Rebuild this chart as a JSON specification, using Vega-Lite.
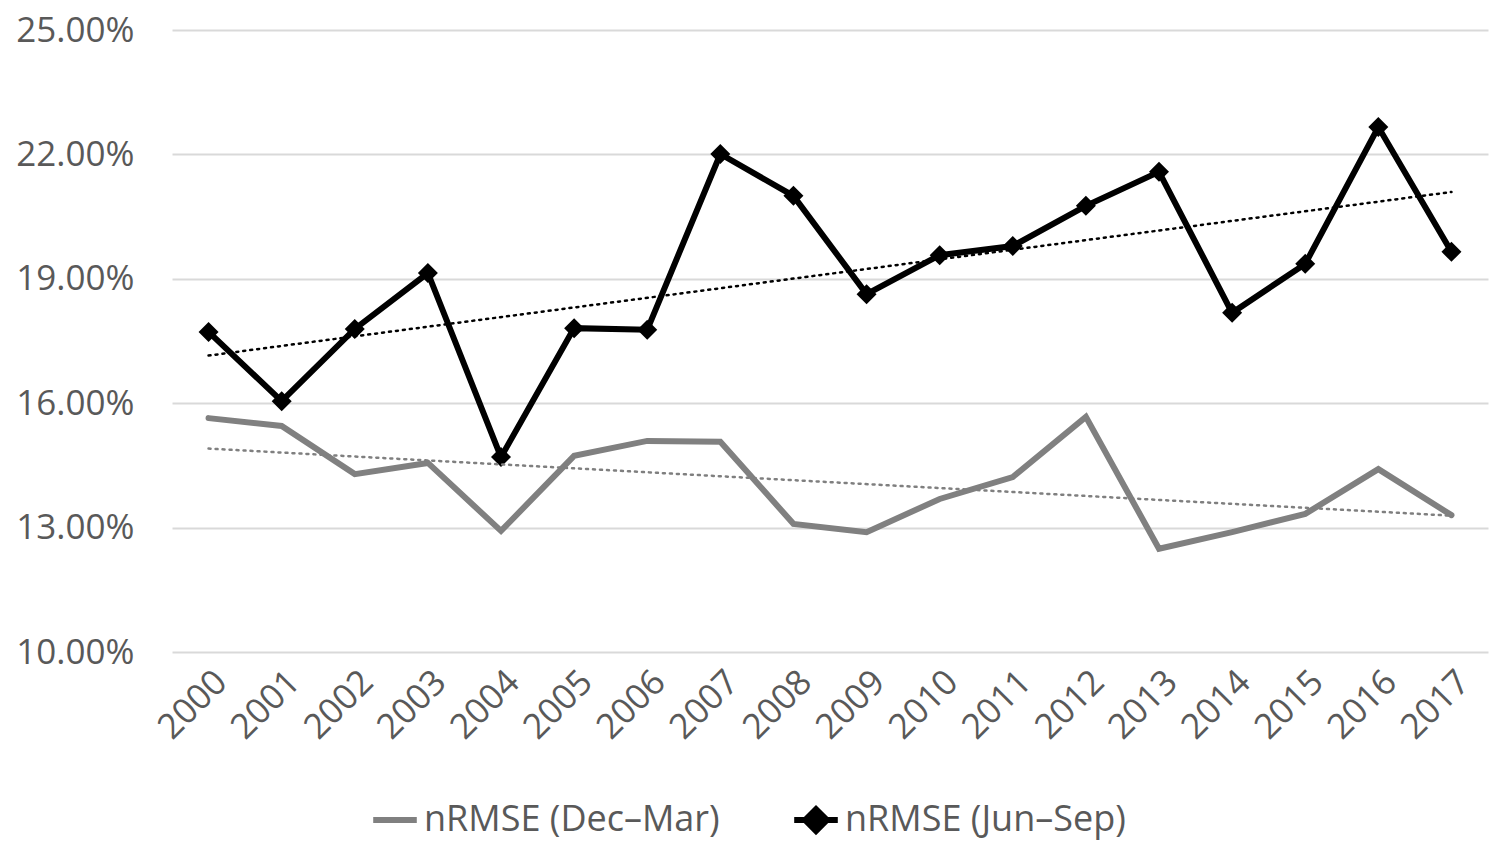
{
  "$schema": "https://vega.github.io/schema/vega-lite/v6.json",
  "width": 1316,
  "height": 622,
  "autosize": "none",
  "padding": {"left": 172, "top": 30, "right": 14, "bottom": 200},
  "background": "white",
  "config": {
    "font": "Open Sans",
    "view": {"stroke": null},
    "axis": {"labelColor": "#595959", "labelFont": "Open Sans"},
    "legend": {"labelColor": "#595959", "labelFont": "Open Sans"}
  },
  "data": {
    "values": [
      {"year": 2000, "series": "nRMSE (Dec\u2013Mar)", "value": 0.1564},
      {"year": 2001, "series": "nRMSE (Dec\u2013Mar)", "value": 0.1545},
      {"year": 2002, "series": "nRMSE (Dec\u2013Mar)", "value": 0.1429},
      {"year": 2003, "series": "nRMSE (Dec\u2013Mar)", "value": 0.1456},
      {"year": 2004, "series": "nRMSE (Dec\u2013Mar)", "value": 0.1292},
      {"year": 2005, "series": "nRMSE (Dec\u2013Mar)", "value": 0.1473},
      {"year": 2006, "series": "nRMSE (Dec\u2013Mar)", "value": 0.1509},
      {"year": 2007, "series": "nRMSE (Dec\u2013Mar)", "value": 0.1507},
      {"year": 2008, "series": "nRMSE (Dec\u2013Mar)", "value": 0.1309},
      {"year": 2009, "series": "nRMSE (Dec\u2013Mar)", "value": 0.1289},
      {"year": 2010, "series": "nRMSE (Dec\u2013Mar)", "value": 0.1369},
      {"year": 2011, "series": "nRMSE (Dec\u2013Mar)", "value": 0.1422},
      {"year": 2012, "series": "nRMSE (Dec\u2013Mar)", "value": 0.1567},
      {"year": 2013, "series": "nRMSE (Dec\u2013Mar)", "value": 0.1249},
      {"year": 2014, "series": "nRMSE (Dec\u2013Mar)", "value": 0.1289},
      {"year": 2015, "series": "nRMSE (Dec\u2013Mar)", "value": 0.1333},
      {"year": 2016, "series": "nRMSE (Dec\u2013Mar)", "value": 0.1441},
      {"year": 2017, "series": "nRMSE (Dec\u2013Mar)", "value": 0.1330},
      {"year": 2000, "series": "nRMSE (Jun\u2013Sep)", "value": 0.1772},
      {"year": 2001, "series": "nRMSE (Jun\u2013Sep)", "value": 0.1605},
      {"year": 2002, "series": "nRMSE (Jun\u2013Sep)", "value": 0.1779},
      {"year": 2003, "series": "nRMSE (Jun\u2013Sep)", "value": 0.1914},
      {"year": 2004, "series": "nRMSE (Jun\u2013Sep)", "value": 0.1470},
      {"year": 2005, "series": "nRMSE (Jun\u2013Sep)", "value": 0.1781},
      {"year": 2006, "series": "nRMSE (Jun\u2013Sep)", "value": 0.1777},
      {"year": 2007, "series": "nRMSE (Jun\u2013Sep)", "value": 0.2201},
      {"year": 2008, "series": "nRMSE (Jun\u2013Sep)", "value": 0.2100},
      {"year": 2009, "series": "nRMSE (Jun\u2013Sep)", "value": 0.1863},
      {"year": 2010, "series": "nRMSE (Jun\u2013Sep)", "value": 0.1957},
      {"year": 2011, "series": "nRMSE (Jun\u2013Sep)", "value": 0.1979},
      {"year": 2012, "series": "nRMSE (Jun\u2013Sep)", "value": 0.2076},
      {"year": 2013, "series": "nRMSE (Jun\u2013Sep)", "value": 0.2158},
      {"year": 2014, "series": "nRMSE (Jun\u2013Sep)", "value": 0.1818},
      {"year": 2015, "series": "nRMSE (Jun\u2013Sep)", "value": 0.1936},
      {"year": 2016, "series": "nRMSE (Jun\u2013Sep)", "value": 0.2266},
      {"year": 2017, "series": "nRMSE (Jun\u2013Sep)", "value": 0.1965}
    ]
  },
  "encoding": {
    "x": {
      "field": "year",
      "type": "ordinal",
      "scale": {"type": "point", "padding": 0.5},
      "axis": {
        "title": null,
        "labelAngle": -45,
        "labelFontSize": 35,
        "labelPadding": 12,
        "ticks": false,
        "domain": false,
        "grid": false
      }
    },
    "y": {
      "field": "value",
      "type": "quantitative",
      "scale": {"domain": [0.1, 0.25], "nice": false, "zero": false},
      "axis": {
        "title": null,
        "values": [0.1, 0.13, 0.16, 0.19, 0.22, 0.25],
        "format": ".2%",
        "labelFontSize": 35,
        "labelPadding": 38,
        "ticks": false,
        "domain": false,
        "gridColor": "#d9d9d9",
        "gridWidth": 2
      }
    }
  },
  "layer": [
    {
      "mark": {"type": "line", "strokeWidth": 6, "strokeJoin": "miter", "strokeCap": "round"},
      "encoding": {
        "color": {
          "field": "series",
          "type": "nominal",
          "scale": {"domain": ["nRMSE (Dec\u2013Mar)", "nRMSE (Jun\u2013Sep)"], "range": ["#808080", "#000000"]},
          "legend": {
            "title": null,
            "orient": "none",
            "direction": "horizontal",
            "legendX": 198,
            "legendY": 765,
            "labelFontSize": 36,
            "labelLimit": 1000,
            "labelBaseline": "middle",
            "gridAlign": "all",
            "symbolSize": 1900,
            "symbolStrokeWidth": 6,
            "columnPadding": 62,
            "labelOffset": 4
          }
        },
        "shape": {
          "field": "series",
          "type": "nominal",
          "scale": {"domain": ["nRMSE (Dec\u2013Mar)", "nRMSE (Jun\u2013Sep)"], "range": ["M-1,0L1,0M0,-0.5L0,-0.5M0,0.5L0,0.5", "M-1,0L1,0M-0.5,0L0,-0.5L0.5,0L0,0.5Z"]}
        }
      }
    },
    {
      "transform": [{"filter": "datum.series === 'nRMSE (Jun\u2013Sep)'"}],
      "mark": {"type": "point", "shape": "diamond", "filled": true, "size": 400, "color": "#000000", "opacity": 1}
    },
    {
      "transform": [
        {"filter": "datum.series === 'nRMSE (Dec\u2013Mar)'"},
        {"regression": "value", "on": "year"}
      ],
      "mark": {"type": "line", "strokeWidth": 2.5, "strokeDash": [2, 5], "color": "#7f7f7f", "strokeCap": "round"},
      "encoding": {}
    },
    {
      "transform": [
        {"filter": "datum.series === 'nRMSE (Jun\u2013Sep)'"},
        {"regression": "value", "on": "year"}
      ],
      "mark": {"type": "line", "strokeWidth": 2.5, "strokeDash": [2, 5], "color": "#000000", "strokeCap": "round"},
      "encoding": {}
    }
  ]
}
